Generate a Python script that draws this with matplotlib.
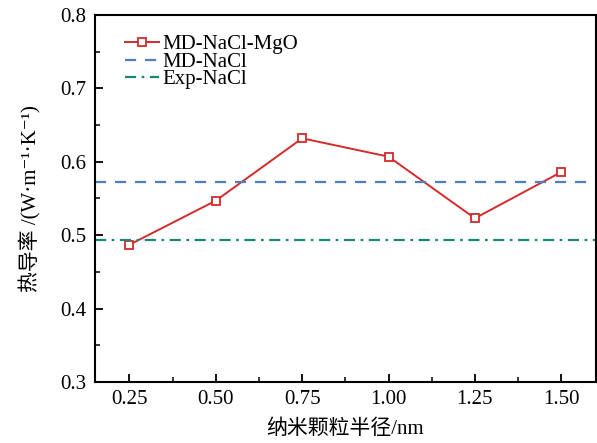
import numpy as np
import matplotlib
matplotlib.use('Agg')
import matplotlib.pyplot as plt
from matplotlib.ticker import MultipleLocator

plt.rcParams['font.family'] = ['Liberation Serif', 'Noto Sans CJK SC', 'DejaVu Serif']

radius = [0.25, 0.50, 0.75, 1.00, 1.25, 1.50]
k_md_nacl_mgo = [0.487, 0.547, 0.632, 0.607, 0.523, 0.586]
k_md_nacl = 0.572
k_exp_nacl = 0.493
xticks = [0.25, 0.50, 0.75, 1.00, 1.25, 1.50]

fig = plt.figure(figsize=(5.97, 4.43), dpi=100)
ax = fig.add_axes([0.159, 0.138, 0.839, 0.828])

ax.plot(radius, k_md_nacl_mgo, color='#d42a2a', lw=1.4, marker='s', ms=6,
        mfc='white', mec='#d42a2a', mew=1.3, label='MD-NaCl-MgO')
ax.axhline(k_md_nacl, color='#4f7fbf', lw=1.6, ls=(0, (5, 4)), label='MD-NaCl')
ax.axhline(k_exp_nacl, color='#14897a', lw=1.6, ls=(0, (5, 2.5, 1.2, 2.5)),
           label='Exp-NaCl')

ax.set_xlim(0.15, 1.6)
ax.set_ylim(0.3, 0.8)
ax.set_xticks(xticks)
ax.set_xticklabels(['%.2f' % v for v in xticks])
ax.xaxis.set_minor_locator(MultipleLocator(0.125))
ax.yaxis.set_major_locator(MultipleLocator(0.1))
ax.yaxis.set_minor_locator(MultipleLocator(0.05))
ax.tick_params(which='both', direction='in', labelsize=15, top=False, right=False)
ax.tick_params(which='major', length=6, width=1.3, pad=6)
ax.tick_params(which='minor', length=3.5, width=1.1)
for s in ax.spines.values():
    s.set_linewidth(1.5)

ax.set_xlabel('纳米颗粒半径/nm', fontsize=15, labelpad=7)
ax.set_ylabel('热导率 /(W·m⁻¹·K⁻¹)', fontsize=15, labelpad=14)

leg = ax.legend(loc='upper left', frameon=False, fontsize=15, handlelength=1.6,
                handletextpad=0.2, labelspacing=-0.1, borderaxespad=0.0,
                bbox_to_anchor=(0.044, 0.969))

fig.savefig('out.png', dpi=100)
